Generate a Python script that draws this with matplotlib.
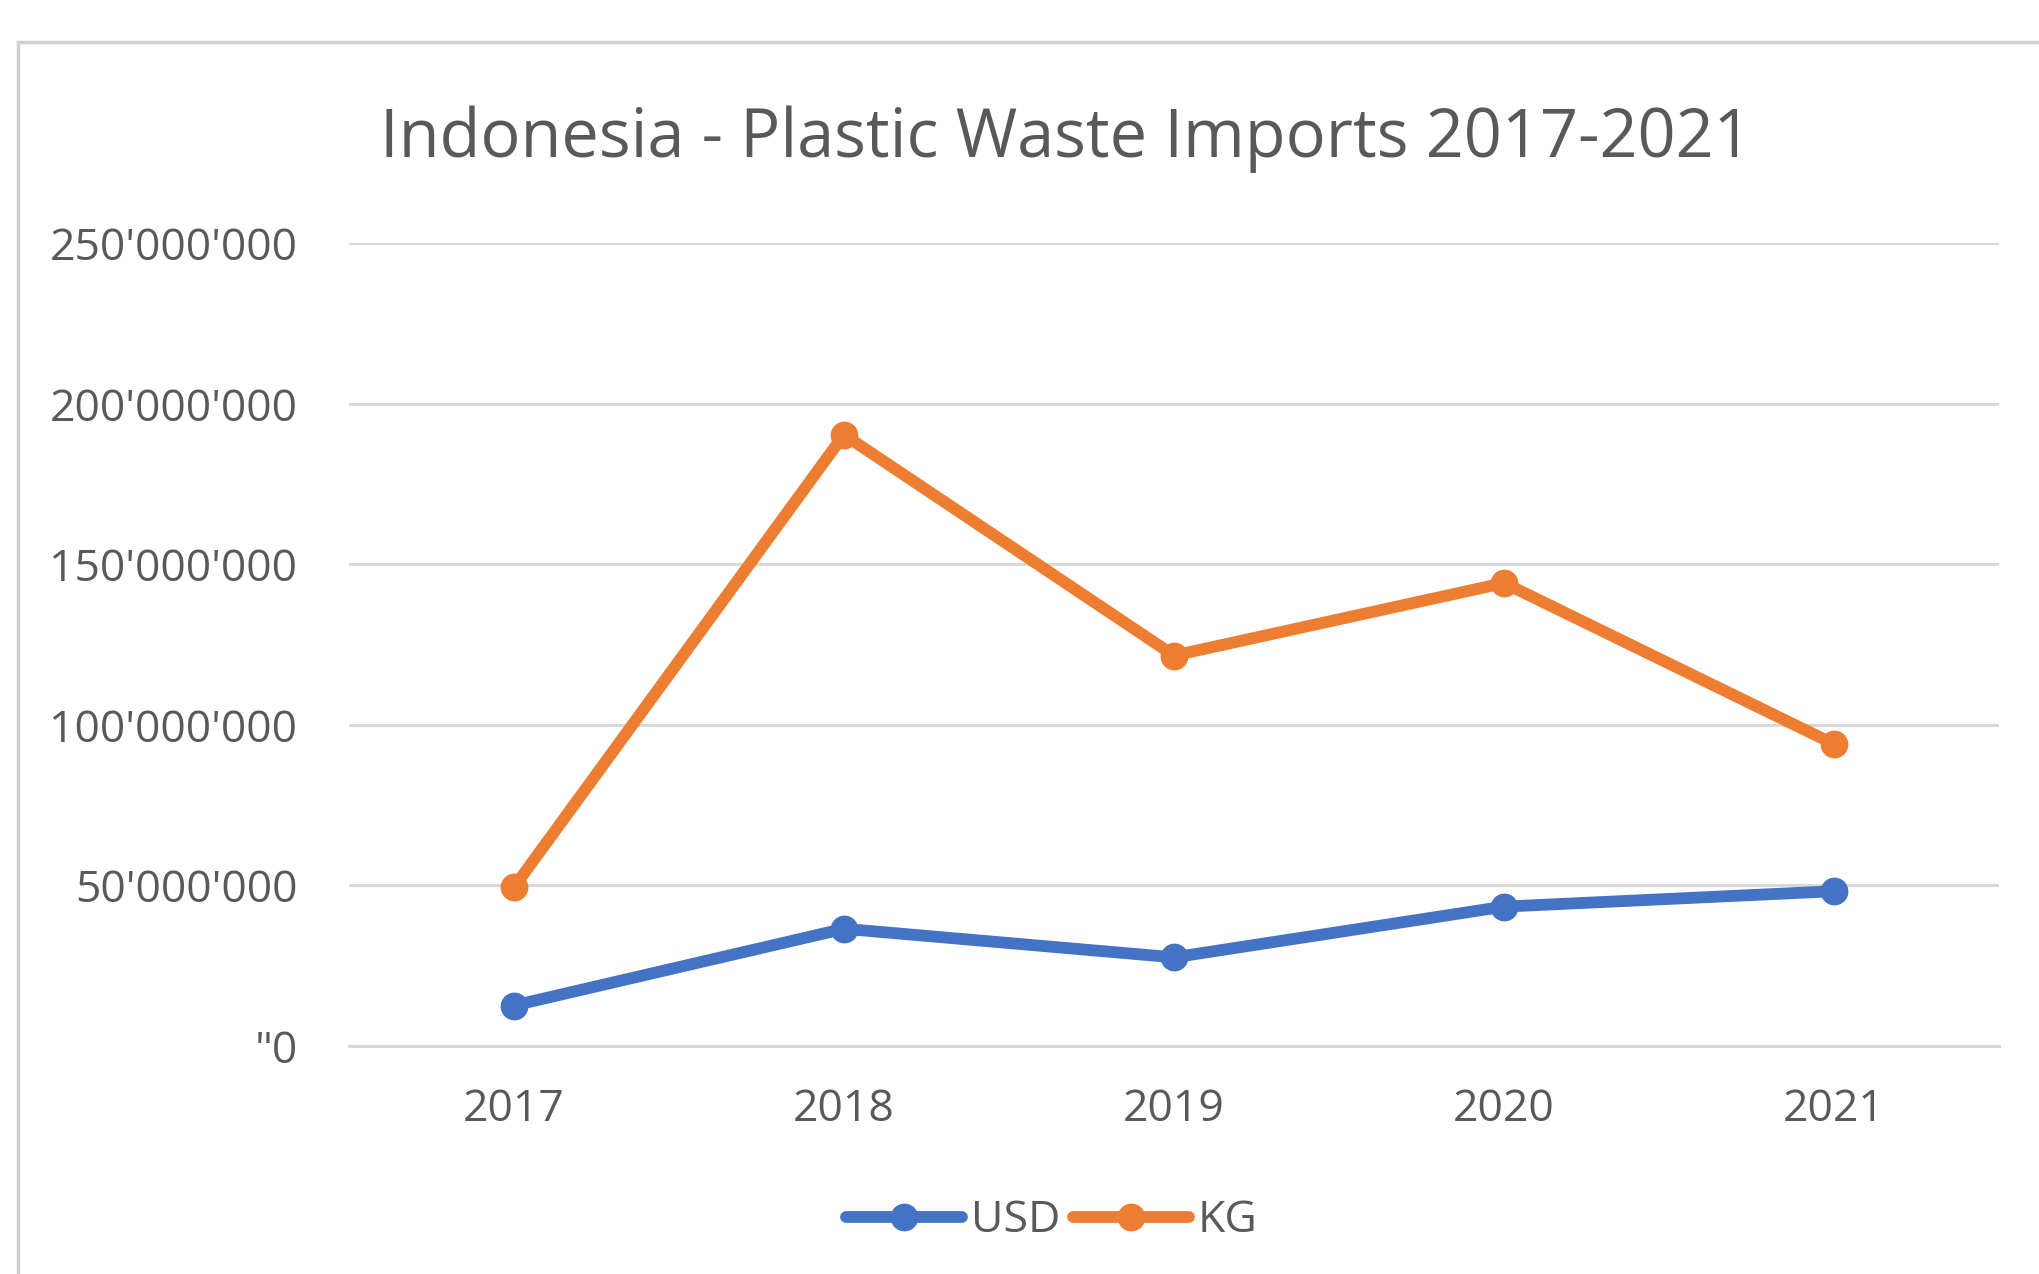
import matplotlib.pyplot as plt
from matplotlib.patches import Rectangle

years = ['2017', '2018', '2019', '2020', '2021']
usd = [12.6e6, 36.5e6, 27.6e6, 43.4e6, 48.2e6]
kg = [49.4e6, 190.4e6, 121.6e6, 144.2e6, 94.0e6]
y_ticks = [0, 50e6, 100e6, 150e6, 200e6, 250e6]
y_tick_labels = ['"0', "50'000'000", "100'000'000", "150'000'000",
                 "200'000'000", "250'000'000"]

plt.rcParams['font.family'] = ['Open Sans', 'DejaVu Sans']
text_color = '#595959'

fig = plt.figure(figsize=(20.4, 12.74), dpi=100)
ax = fig.add_axes([0.171, 0.179, 0.809, 0.630])

# chart area border, only left and top show in the crop
fig.patches.append(Rectangle((18 / 2040, -0.1), 1.2, (1274 - 42) / 1274 + 0.1,
                             transform=fig.transFigure, fill=False,
                             edgecolor='#d0d0d0', linewidth=2.5))

x = list(range(len(years)))
ax.plot(x, usd, color='#4472C4', linewidth=8.5, marker='o', markersize=19,
        label='USD', solid_capstyle='round', zorder=3)
ax.plot(x, kg, color='#ED7D31', linewidth=8.5, marker='o', markersize=19,
        label='KG', solid_capstyle='round', zorder=3)

ax.set_xlim(-0.5, 4.5)
ax.set_ylim(0, 250e6)
ax.set_xticks(x)
ax.set_xticklabels(years)
ax.set_yticks(y_ticks)
ax.set_yticklabels(y_tick_labels)
ax.grid(axis='y', color='#d9d9d9', linewidth=2.2)
ax.set_axisbelow(True)
for s in ax.spines.values():
    s.set_visible(False)
ax.spines['bottom'].set_visible(True)
ax.spines['bottom'].set_color('#d9d9d9')
ax.spines['bottom'].set_linewidth(2.2)
ax.tick_params(axis='both', length=0, labelsize=32, colors=text_color)
ax.tick_params(axis='y', pad=37)
ax.tick_params(axis='x', pad=30)

fig.text(0.5225, 0.891, 'Indonesia - Plastic Waste Imports 2017-2021',
         ha='center', va='center', fontsize=48, color=text_color)

leg = ax.legend(loc='center', bbox_to_anchor=(1052 / 2040, 53 / 1274),
                bbox_transform=fig.transFigure, ncol=2, frameon=False,
                fontsize=32, handlelength=2.6, handletextpad=0.2,
                columnspacing=0.3, labelcolor=text_color)

fig.savefig('out.png', dpi=100)
